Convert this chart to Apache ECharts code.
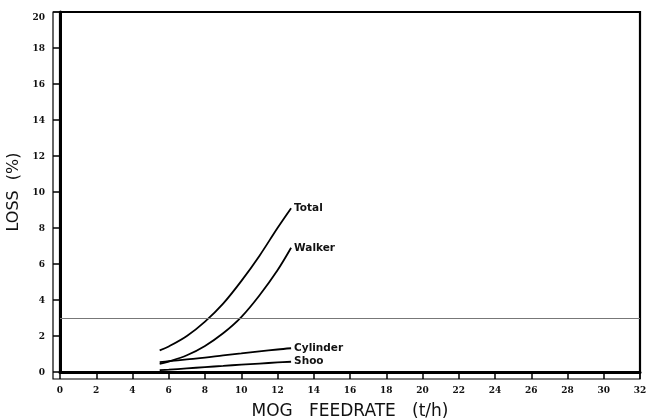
<!DOCTYPE html>
<html>
<head>
<meta charset="utf-8">
<script src="https://cdn.jsdelivr.net/npm/echarts@6/dist/echarts.min.js"></script>
<style>html,body{margin:0;padding:0;background:#fff}#c{width:649px;height:420px}</style>
</head>
<body>
<div id="c"></div>
<script>
const xTicks = [0,2,4,6,8,10,12,14,16,18,20,22,24,26,28,30,32];
const yTicks = [0,2,4,6,8,10,12,14,16,18,20];
const feed = [5.5, 6, 7, 8, 9, 10, 11, 12, 12.75];
const total = [1.2, 1.42, 2.0, 2.8, 3.8, 5.05, 6.45, 8.0, 9.1];
const walker = [0.45, 0.58, 0.93, 1.45, 2.15, 3.05, 4.25, 5.65, 6.9];
const cylinder = [0.55, 0.6, 0.7, 0.8, 0.92, 1.03, 1.14, 1.25, 1.32];
const shoe = [0.1, 0.13, 0.2, 0.27, 0.34, 0.41, 0.47, 0.53, 0.57];
const refLine = 3;
const names = ['Total','Walker','Cylinder','Shoo'];
const values = [total, walker, cylinder, shoe];

const chart = echarts.init(document.getElementById('c'));
const labelFont = {fontFamily:'DejaVu Serif Condensed', fontWeight:'bold', fontSize:10, color:'#111'};
const series = names.map((n,i)=>({
  name:n, type:'line', smooth:0.35, symbol:'none', xAxisIndex:0, yAxisIndex:0,
  data: feed.map((x,j)=>[x, values[i][j]]),
  lineStyle:{color:'#000', width:1.8},
  endLabel:{show:true, formatter:n, fontFamily:'DejaVu Sans', fontWeight:'bold', fontSize:10.5, color:'#111', distance:3},
  markLine: i===0 ? {silent:true, symbol:'none', label:{show:false}, lineStyle:{color:'#777', width:1, type:'solid'}, data:[{yAxis:refLine}]} : undefined
}));
chart.setOption({
  animation:false,
  grid:[
    {left:60, right:9, top:12, bottom:48, outerBoundsMode:'none', containLabel:false, show:true, borderColor:'#000', borderWidth:2.2, z:3},
    {left:53, right:9, top:12, bottom:41, outerBoundsMode:'none', containLabel:false, show:true, borderColor:'#000', borderWidth:1.2, z:2}
  ],
  xAxis:[{
    gridIndex:0, type:'value', min:0, max:32, interval:2, position:'bottom',
    axisLine:{show:true, onZero:false, lineStyle:{color:'#000', width:3}},
    axisTick:{show:true, inside:false, length:7, lineStyle:{color:'#000', width:1.5}},
    axisLabel:Object.assign({margin:13, formatter:v=>String(v)}, labelFont),
    splitLine:{show:false},
    name:'MOG   FEEDRATE   (t/h)', nameLocation:'middle', nameGap:31,
    nameTextStyle:{fontFamily:'DejaVu Sans', fontSize:17, color:'#111'}
  },{
    gridIndex:1, type:'value', min:0, max:1, show:false
  }],
  yAxis:[{
    gridIndex:0, type:'value', min:0, max:20, interval:2, position:'left',
    axisLine:{show:true, onZero:false, lineStyle:{color:'#000', width:3}},
    axisTick:{show:true, inside:false, length:7, lineStyle:{color:'#000', width:1.5}},
    axisLabel:Object.assign({margin:15, verticalAlignMaxLabel:'top', formatter:v=>String(v)}, labelFont),
    splitLine:{show:false},
    name:'LOSS  (%)', nameLocation:'middle', nameGap:12,
    nameTextStyle:{fontFamily:'DejaVu Sans', fontSize:16, color:'#111'}
  },{
    gridIndex:1, type:'value', min:0, max:1, show:false
  }],
  series: series
});
</script>
</body>
</html>
